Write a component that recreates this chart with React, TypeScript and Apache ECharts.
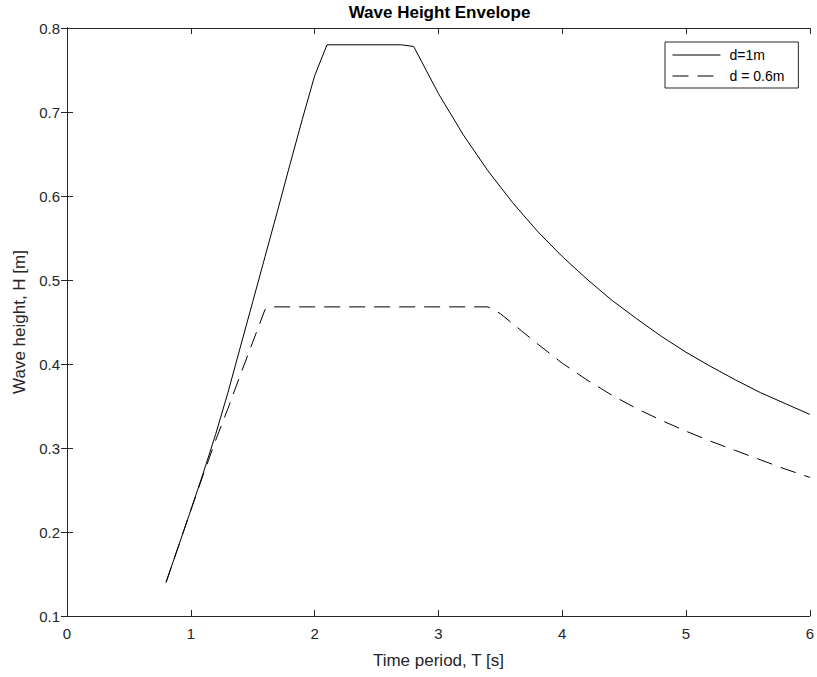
import React, { useEffect, useRef } from "react";
import * as echarts from "echarts";

const titleText = "Wave Height Envelope";
const xName = "Time period, T [s]";
const yName = "Wave height, H [m]";
const seriesNames = ["d=1m", "d = 0.6m"];

const solidT = [0.8, 0.9, 1.0, 1.1, 1.2, 1.3, 1.4, 1.5, 1.6, 1.7, 1.8, 1.9, 2.0, 2.1, 2.7, 2.8, 3.0, 3.2, 3.4, 3.6, 3.8, 4.0, 4.2, 4.4, 4.6, 4.8, 5.0, 5.2, 5.4, 5.6, 5.8, 6.0];
const solidH = [0.140, 0.183, 0.226, 0.270, 0.316, 0.366, 0.420, 0.474, 0.528, 0.582, 0.637, 0.691, 0.743, 0.780, 0.780, 0.778, 0.722, 0.673, 0.630, 0.592, 0.558, 0.528, 0.501, 0.476, 0.454, 0.433, 0.414, 0.397, 0.381, 0.366, 0.353, 0.340];

const dashT = [0.8, 0.9, 1.0, 1.1, 1.2, 1.3, 1.4, 1.5, 1.6, 1.65, 3.4, 3.5, 3.6, 3.8, 4.0, 4.2, 4.4, 4.6, 4.8, 5.0, 5.2, 5.4, 5.6, 5.8, 6.0];
const dashH = [0.140, 0.183, 0.226, 0.268, 0.309, 0.347, 0.387, 0.426, 0.465, 0.468, 0.468, 0.460, 0.448, 0.424, 0.401, 0.381, 0.363, 0.347, 0.333, 0.320, 0.308, 0.297, 0.286, 0.275, 0.265];

const FONT = "'Liberation Sans', Arial, Helvetica, sans-serif";
const AX = "#262626";

export default function App() {
  const ref = useRef<HTMLDivElement>(null);
  useEffect(() => {
    document.body.style.margin = "0";
    const chart = echarts.init(ref.current!, null, { renderer: "svg" });
    const grid = { left: 67, right: 5, top: 28, bottom: 61 };
    const axisCommon = {
      axisLine: { show: true, lineStyle: { color: AX, width: 1 } },
      axisTick: { show: true, inside: true, length: 6, lineStyle: { color: AX } },
      splitLine: { show: false },
    };
    chart.setOption({
      animation: false,
      backgroundColor: "#ffffff",
      grid,
      graphic: [
        {
          type: "text",
          x: 439.5,
          y: 12,
          style: {
            text: titleText,
            align: "center",
            verticalAlign: "middle",
            fontFamily: FONT,
            fontWeight: "bold",
            fontSize: 17,
            fill: "#000",
          },
        },
      ],
      legend: {
        orient: "vertical",
        left: 665,
        top: 42,
        borderColor: AX,
        borderWidth: 1,
        backgroundColor: "#fff",
        padding: [6, 14, 5, 7],
        itemWidth: 48,
        itemHeight: 14,
        itemGap: 7,
        itemStyle: { color: "rgba(0,0,0,0)", borderWidth: 0, opacity: 0 },
        lineStyle: { width: 1, color: "#000" },
        textStyle: { fontFamily: FONT, fontSize: 14, color: "#000", padding: [0, 0, 0, 4] },
        data: seriesNames,
      },
      xAxis: [
        {
          type: "value",
          min: 0,
          max: 6,
          interval: 1,
          position: "bottom",
          name: xName,
          nameLocation: "middle",
          nameGap: 36,
          nameTextStyle: { fontFamily: FONT, fontSize: 17, color: AX },
          axisLabel: { fontFamily: FONT, fontSize: 15, color: AX, margin: 10 },
          ...axisCommon,
        },
        {
          type: "value",
          min: 0,
          max: 6,
          interval: 1,
          position: "top",
          axisLabel: { show: false },
          ...axisCommon,
        },
      ],
      yAxis: [
        {
          type: "value",
          min: 0.1,
          max: 0.8,
          interval: 0.1,
          position: "left",
          name: yName,
          nameLocation: "middle",
          nameGap: 39,
          nameTextStyle: { fontFamily: FONT, fontSize: 17, color: AX },
          axisLabel: { fontFamily: FONT, fontSize: 15, color: AX, margin: 7, formatter: (v: number) => v.toFixed(1) },
          ...axisCommon,
        },
        {
          type: "value",
          min: 0.1,
          max: 0.8,
          interval: 0.1,
          position: "right",
          axisLabel: { show: false },
          ...axisCommon,
        },
      ],
      series: [
        {
          name: seriesNames[0],
          type: "line",
          xAxisIndex: 0,
          yAxisIndex: 0,
          symbol: "none",
          lineStyle: { color: "#000", width: 1, type: "solid" },
          itemStyle: { color: "#000" },
          data: solidT.map((t, i) => [t, solidH[i]]),
        },
        {
          name: seriesNames[1],
          type: "line",
          xAxisIndex: 0,
          yAxisIndex: 0,
          symbol: "none",
          lineStyle: { color: "#000", width: 1, type: [16, 9] },
          itemStyle: { color: "#000" },
          data: dashT.map((t, i) => [t, dashH[i]]),
        },
      ],
    });
    return () => chart.dispose();
  }, []);
  return (
    <div
      ref={ref}
      style={{ position: "fixed", left: 0, top: 0, width: 817, height: 677, background: "#fff" }}
    />
  );
}
